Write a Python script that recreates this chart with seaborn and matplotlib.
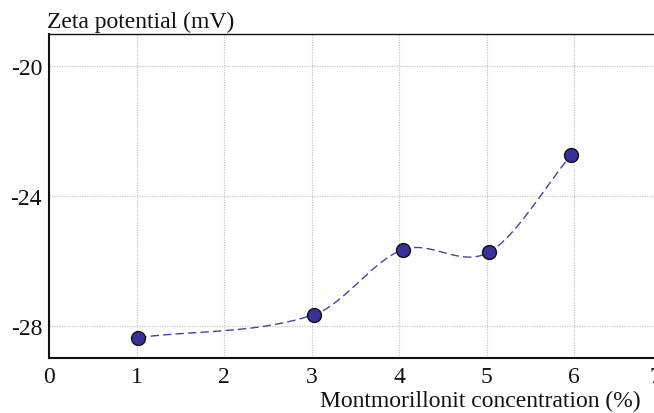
import numpy as np
import pandas as pd
import matplotlib
matplotlib.use("Agg")
import matplotlib.pyplot as plt
import matplotlib.transforms as mtransforms
import seaborn as sns

# Data
concentration = [1.02, 3.03, 4.04, 5.03, 5.97]
zeta = [-28.37, -27.66, -25.66, -25.73, -22.73]
x_ticks = [0, 1, 2, 3, 4, 5, 6, 7]
y_ticks = [-20, -24, -28]

sns.set_style("white")
plt.rcParams['font.family'] = ['Liberation Serif', 'DejaVu Serif']

df = pd.DataFrame({"x": concentration, "y": zeta})

# Smooth (Catmull-Rom style cubic Hermite) rendering of the connecting line
def hermite_curve(xs, ys, n=60):
    xs = np.asarray(xs, float); ys = np.asarray(ys, float)
    m = np.zeros_like(ys)
    m[1:-1] = (ys[2:] - ys[:-2]) / (xs[2:] - xs[:-2])
    m[0] = (ys[1] - ys[0]) / (xs[1] - xs[0])
    m[-1] = (ys[-1] - ys[-2]) / (xs[-1] - xs[-2])
    px, py = [], []
    for i in range(len(xs) - 1):
        h = xs[i + 1] - xs[i]
        t = np.linspace(0, 1, n)
        h00 = 2*t**3 - 3*t**2 + 1
        h10 = t**3 - 2*t**2 + t
        h01 = -2*t**3 + 3*t**2
        h11 = t**3 - t**2
        px.append(xs[i] + t*h)
        py.append(h00*ys[i] + h10*h*m[i] + h01*ys[i+1] + h11*h*m[i+1])
    return np.concatenate(px), np.concatenate(py)

cx, cy = hermite_curve(df["x"], df["y"])
curve = pd.DataFrame({"x": cx, "y": cy})

fig = plt.figure(figsize=(6.54, 4.14), dpi=100)
ax = fig.add_axes([49/654, 55/414, 612.5/654, 324/414])

sns.lineplot(data=curve, x="x", y="y", ax=ax, color="#4b3fae", linewidth=1.0,
             linestyle=(0, (6, 3)), sort=False, estimator=None)
sns.scatterplot(data=df, x="x", y="y", ax=ax, s=100, color="#3b2f98",
                edgecolor="#111111", linewidth=1.0, zorder=5)

ax.set_xlim(0, 7)
ax.set_ylim(-29, -19)
ax.set_xticks(x_ticks)
ax.set_xticklabels([str(v) for v in x_ticks])
ax.set_yticks(y_ticks)
ax.set_yticklabels([str(v) for v in y_ticks])
ax.tick_params(axis='both', length=0, labelsize=17, colors='#111111')
ax.tick_params(axis='x', pad=5.5)
ax.tick_params(axis='y', pad=5)
ax.grid(True, color='#c8c8c8', linestyle=(0, (1, 1)), linewidth=0.9)
ax.set_xlabel("")
ax.set_ylabel("")
for side in ['left', 'bottom']:
    ax.spines[side].set_color('#111111')
    ax.spines[side].set_linewidth(1.5)
ax.spines['top'].set_color('#111111')
ax.spines['top'].set_linewidth(1.0)
ax.spines['right'].set_visible(False)

# the last tick label sits slightly left, partly cut by the figure edge
last = ax.get_xticklabels()[-1]
last.set_transform(last.get_transform() + mtransforms.ScaledTranslation(-6/100, 0, fig.dpi_scale_trans))

fig.text(47/654, 1 - 28/414, "Zeta potential (mV)", ha='left', va='baseline',
         fontsize=17, color='#111111')
fig.text(641/654, 1 - 407/414, "Montmorillonit concentration (%)", ha='right',
         va='baseline', fontsize=17, color='#111111')

fig.savefig("out.png", dpi=100)
